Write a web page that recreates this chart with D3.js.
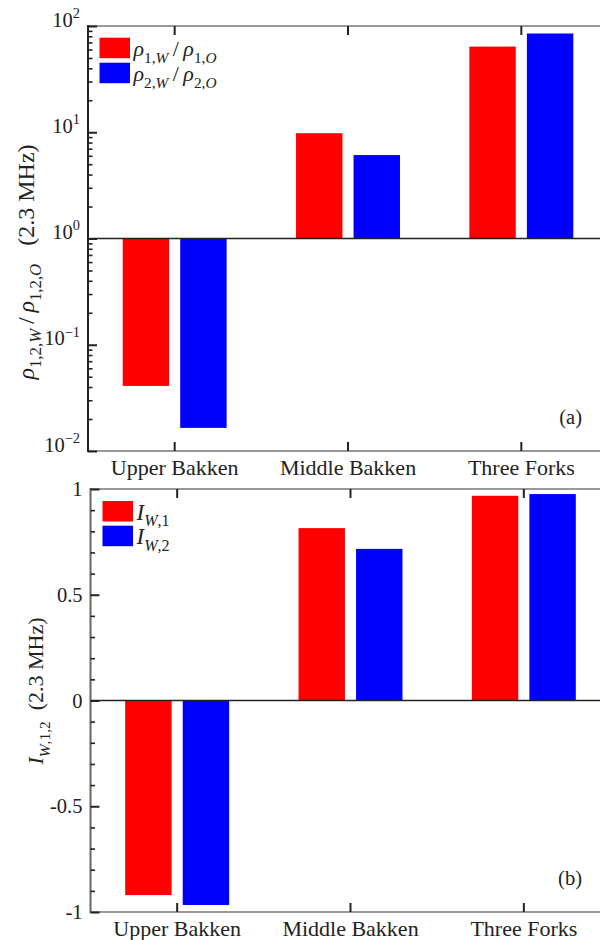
<!DOCTYPE html>
<html>
<head>
<meta charset="utf-8">
<script src="https://cdn.jsdelivr.net/npm/d3@7"></script>
<style>
  svg text, svg tspan { font-family: 'Liberation Serif' !important; }
</style>
</head>
<body style="margin:0;background:#fff">
<svg id="chart" width="600" height="940" font-family="Liberation Serif"></svg>
<script>
// data
const categories = ['Upper Bakken', 'Middle Bakken', 'Three Forks'];
const seriesKeys = ['s1', 's2'];
const rhoRatio1 = [0.041, 9.8, 64];      // rho_1,W / rho_1,O
const rhoRatio2 = [0.0165, 6.1, 85];     // rho_2,W / rho_2,O
const iw1 = [-0.92, 0.815, 0.968];       // I_W,1
const iw2 = [-0.967, 0.717, 0.976];      // I_W,2
const logTicks = [1e-2, 1e-1, 1, 10, 100];
const logTickExp = ['\u22122', '\u22121', '0', '1', '2'];
const linTicks = [-1, -0.5, 0, 0.5, 1];
const linTickLabels = ['-1', '-0.5', '0', '0.5', '1'];
const colors = ['#ff0000', '#0000ff'];

const FONT = "'Liberation Serif'";
const svg = d3.select('#chart');

// small helper for math-ish labels: parts = [[text, style]]
// style flags: i = italic, b = subscript, p = superscript
function mathText(text, parts, size) {
  var shift = 0;
  parts.forEach(function(p) {
    var str = p[0], st = p[1] || '';
    var isSub = st.indexOf('b') > -1, isSup = st.indexOf('p') > -1;
    var target = isSub ? size * 0.3 : isSup ? -size * 0.42 : 0;
    text.append('tspan')
      .text(str)
      .attr('dy', target - shift)
      .attr('font-size', (isSub || isSup) ? size * 0.7 : size)
      .attr('font-style', st.indexOf('i') > -1 ? 'italic' : 'normal');
    shift = target;
  });
}

// sub-band inside each category for the two series
const sub = d3.scaleBand().domain(seriesKeys).paddingInner(0.193).paddingOuter(0.603);

function drawFrame(g, x, y, base, leftColor) {
  var r = x.range(), d = y.range();
  g.append('line').attr('x1', r[0]).attr('x2', r[1]).attr('y1', d[1]).attr('y2', d[1])
    .attr('stroke', '#777').attr('stroke-width', 1.6);
  g.append('line').attr('x1', r[0]).attr('x2', r[1]).attr('y1', d[0]).attr('y2', d[0])
    .attr('stroke', '#777').attr('stroke-width', 1.6);
  g.append('line').attr('x1', r[0]).attr('x2', r[1]).attr('y1', y(base)).attr('y2', y(base))
    .attr('stroke', '#222').attr('stroke-width', 1.6);
  g.append('line').attr('x1', r[0]).attr('x2', r[0]).attr('y1', d[0] + 1).attr('y2', d[1] - 1)
    .attr('stroke', leftColor).attr('stroke-width', 2);
}

function drawXAxes(g, x, y) {
  var d = y.range();
  var bottom = g.append('g').attr('transform', 'translate(0,' + d[0] + ')')
    .call(d3.axisBottom(x).tickSize(-9).tickPadding(8).tickSizeOuter(0));
  bottom.select('.domain').remove();
  bottom.selectAll('.tick line').attr('stroke', '#222').attr('stroke-width', 2);
  bottom.selectAll('.tick text').attr('font-size', 22).attr('fill', '#222');

  var top = g.append('g').attr('transform', 'translate(0,' + d[1] + ')')
    .call(d3.axisTop(x).tickSize(-9).tickFormat(function() { return ''; }).tickSizeOuter(0));
  top.select('.domain').remove();
  top.selectAll('.tick line').attr('stroke', '#222').attr('stroke-width', 2);
}

function drawBars(g, x, y, base, series) {
  sub.range([0, x.bandwidth()]);
  series.forEach(function(vals, si) {
    g.selectAll('rect.s' + si)
      .data(vals)
      .join('rect')
      .attr('class', 's' + si)
      .attr('x', function(v, i) { return x(categories[i]) + sub(seriesKeys[si]); })
      .attr('width', sub.bandwidth())
      .attr('y', function(v) { return Math.min(y(v), y(base)); })
      .attr('height', function(v) { return Math.abs(y(v) - y(base)); })
      .attr('fill', colors[si]);
  });
}

function drawLegend(g, x0, y0, rowH, labels, size) {
  labels.forEach(function(parts, i) {
    g.append('rect').attr('x', x0).attr('y', y0 + i * rowH)
      .attr('width', 30.5).attr('height', 20.5).attr('fill', colors[i]);
    var t = g.append('text').attr('x', x0 + 34).attr('y', y0 + i * rowH + 18.5);
    mathText(t, parts, size);
  });
}

// ---------- panel (a): log ratio ----------
const xA = d3.scaleBand().domain(categories).range([88, 608]);
const yA = d3.scaleLog().domain([1e-2, 1e2]).range([451, 26]);
const gA = svg.append('g');

drawBars(gA, xA, yA, 1, [rhoRatio1, rhoRatio2]);
drawFrame(gA, xA, yA, 1, '#222');
drawXAxes(gA, xA, yA);

const minorA = [];
logTicks.slice(0, -1).forEach(function(t) {
  for (var k = 2; k <= 9; k++) minorA.push(t * k);
});
gA.append('g').attr('transform', 'translate(88,0)')
  .call(d3.axisLeft(yA).tickValues(minorA).tickSize(-4.5).tickFormat(function() { return ''; }))
  .call(function(a) { a.select('.domain').remove(); })
  .selectAll('.tick line').attr('stroke', '#222').attr('stroke-width', 1.6);

const leftA = gA.append('g').attr('transform', 'translate(88,0)')
  .call(d3.axisLeft(yA).tickValues(logTicks).tickSize(-9).tickPadding(8).tickFormat(function() { return ''; }));
leftA.select('.domain').remove();
leftA.selectAll('.tick line').attr('stroke', '#222').attr('stroke-width', 2);
leftA.selectAll('.tick text').attr('fill', '#222').each(function(d, i) {
  var t = d3.select(this);
  t.text(null);
  mathText(t, [['10', ''], [logTickExp[i], 'p']], 20.5);
});

drawLegend(gA, 99.5, 37.7, 25, [
  [['\u03c1', 'i'], ['1,', 'b'], ['W', 'bi'], ['\u2009/\u2009', ''], ['\u03c1', 'i'], ['1,', 'b'], ['O', 'bi']],
  [['\u03c1', 'i'], ['2,', 'b'], ['W', 'bi'], ['\u2009/\u2009', ''], ['\u03c1', 'i'], ['2,', 'b'], ['O', 'bi']]
], 22);

gA.append('text').attr('x', 582).attr('y', 424).attr('text-anchor', 'end')
  .attr('font-size', 20.5).text('(a)');

const ylabA = gA.append('text').attr('text-anchor', 'middle')
  .attr('transform', 'translate(34,262) rotate(-90)');
mathText(ylabA, [['\u03c1', 'i'], ['1,2,', 'b'], ['W', 'bi'], ['\u2009/\u2009', ''], ['\u03c1', 'i'],
  ['1,2,', 'b'], ['O', 'bi'], ['\u00a0\u00a0\u00a0(2.3 MHz)', '']], 24);

// ---------- panel (b): linear index ----------
const xB = d3.scaleBand().domain(categories).range([90.5, 610.5]);
const yB = d3.scaleLinear().domain([-1, 1]).range([912, 489]);
const gB = svg.append('g');

drawBars(gB, xB, yB, 0, [iw1, iw2]);
drawFrame(gB, xB, yB, 0, '#666');
drawXAxes(gB, xB, yB);

const minorB = d3.range(-9, 10).map(function(k) { return k / 10; })
  .filter(function(v) { return Math.abs(v * 2 - Math.round(v * 2)) > 1e-6; });
gB.append('g').attr('transform', 'translate(90.5,0)')
  .call(d3.axisLeft(yB).tickValues(minorB).tickSize(-4.5).tickFormat(function() { return ''; }))
  .call(function(a) { a.select('.domain').remove(); })
  .selectAll('.tick line').attr('stroke', '#222').attr('stroke-width', 1.6);

const leftB = gB.append('g').attr('transform', 'translate(90.5,0)')
  .call(d3.axisLeft(yB).tickValues(linTicks).tickSize(-9).tickPadding(8)
    .tickFormat(function(d, i) { return linTickLabels[i]; }));
leftB.select('.domain').remove();
leftB.selectAll('.tick line').attr('stroke', '#222').attr('stroke-width', 2);
leftB.selectAll('.tick text').attr('font-size', 20.5).attr('fill', '#222');

drawLegend(gB, 102.5, 501, 24.7, [
  [['I', 'i'], ['W', 'bi'], [',1', 'b']],
  [['I', 'i'], ['W', 'bi'], [',2', 'b']]
], 23);

gB.append('text').attr('x', 582).attr('y', 885).attr('text-anchor', 'end')
  .attr('font-size', 20.5).text('(b)');

const ylabB = gB.append('text').attr('text-anchor', 'middle')
  .attr('transform', 'translate(43,691) rotate(-90)');
mathText(ylabB, [['I', 'i'], ['W', 'bi'], [',1,2', 'b'], ['\u00a0\u00a0(2.3 MHz)', '']], 22);

// one serif face for every label
svg.selectAll('g').attr('font-family', 'Liberation Serif');
svg.selectAll('text').attr('font-family', 'Liberation Serif')
  .style('font-family', FONT).style('fill', '#222');
svg.selectAll('tspan').attr('font-family', 'Liberation Serif');
</script>
</body>
</html>
